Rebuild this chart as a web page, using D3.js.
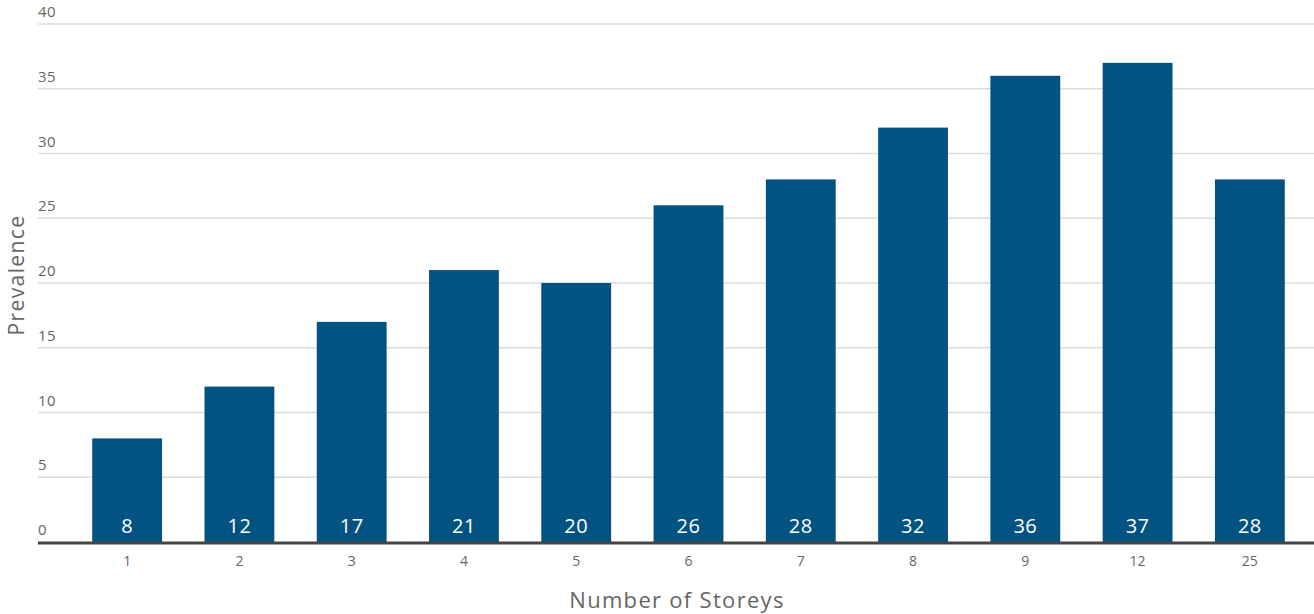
<!DOCTYPE html>
<html>
<head>
<meta charset="utf-8">
<script src="https://cdn.jsdelivr.net/npm/d3@7"></script>
<style>
  body { margin: 0; background: #fff; }
  text { font-family: "Open Sans", sans-serif; }
</style>
</head>
<body>
<div id="chart"></div>
<script>
var storeys = ["1", "2", "3", "4", "5", "6", "7", "8", "9", "12", "25"];
var prevalence = [8, 12, 17, 21, 20, 26, 28, 32, 36, 37, 28];
var yTicks = [0, 5, 10, 15, 20, 25, 30, 35, 40];

var svg = d3.select("#chart")
    .append("svg")
    .attr("width", 1314)
    .attr("height", 614)

var x = d3.scaleBand()
    .domain(storeys)
    .range([71, 1306])
    .paddingInner(0.378)
    .paddingOuter(0.189)

var y = d3.scaleLinear()
    .domain([0, 40])
    .range([542, 24])

// gridlines
svg.append("g")
    .selectAll("line")
    .data(yTicks.filter(function(d) { return d > 0; }))
    .join("line")
    .attr("x1", 38)
    .attr("x2", 1314)
    .attr("y1", function(d) { return y(d); })
    .attr("y2", function(d) { return y(d); })
    .style("stroke", "#dcdcdc")
    .style("stroke-width", 1.5)

// y tick labels sit above their lines
svg.append("g")
    .selectAll("text")
    .data(yTicks)
    .join("text")
    .attr("x", 38)
    .attr("y", function(d) { return y(d) - 7; })
    .text(function(d) { return d; })
    .style("font-size", "15px")
    .style("letter-spacing", "0.5px")
    .style("fill", "#666")

// bars
svg.append("g")
    .selectAll("rect")
    .data(prevalence)
    .join("rect")
    .attr("x", function(d, i) { return x(storeys[i]); })
    .attr("y", function(d) { return y(d); })
    .attr("width", x.bandwidth())
    .attr("height", function(d) { return y(0) - y(d); })
    .style("fill", "#035382")

// value labels
svg.append("g")
    .selectAll("text")
    .data(prevalence)
    .join("text")
    .attr("x", function(d, i) { return x(storeys[i]) + x.bandwidth() / 2; })
    .attr("y", y(0) - 9)
    .attr("text-anchor", "middle")
    .text(function(d) { return d; })
    .style("font-size", "20px")
    .style("letter-spacing", "0.5px")
    .style("fill", "#fff")

// baseline
svg.append("line")
    .attr("x1", 38)
    .attr("x2", 1314)
    .attr("y1", y(0) + 1)
    .attr("y2", y(0) + 1)
    .style("stroke", "#444")
    .style("stroke-width", 3)

// x axis labels
var xAxis = svg.append("g")
    .attr("transform", "translate(0," + (y(0) + 2) + ")")
    .call(d3.axisBottom(x).tickSize(0).tickPadding(12))
xAxis.select(".domain").remove()
xAxis.selectAll("text")
    .style("font-size", "14px")
    .style("fill", "#666")
    .style("font-family", "'Open Sans', sans-serif")

svg.append("text")
    .attr("x", 677)
    .attr("y", 608)
    .attr("text-anchor", "middle")
    .text("Number of Storeys")
    .style("font-size", "22px")
    .style("letter-spacing", "1.3px")
    .style("fill", "#666")

svg.append("text")
    .attr("transform", "translate(24,275) rotate(-90)")
    .attr("text-anchor", "middle")
    .text("Prevalence")
    .style("font-size", "21px")
    .style("letter-spacing", "1.4px")
    .style("fill", "#666")
</script>
</body>
</html>
